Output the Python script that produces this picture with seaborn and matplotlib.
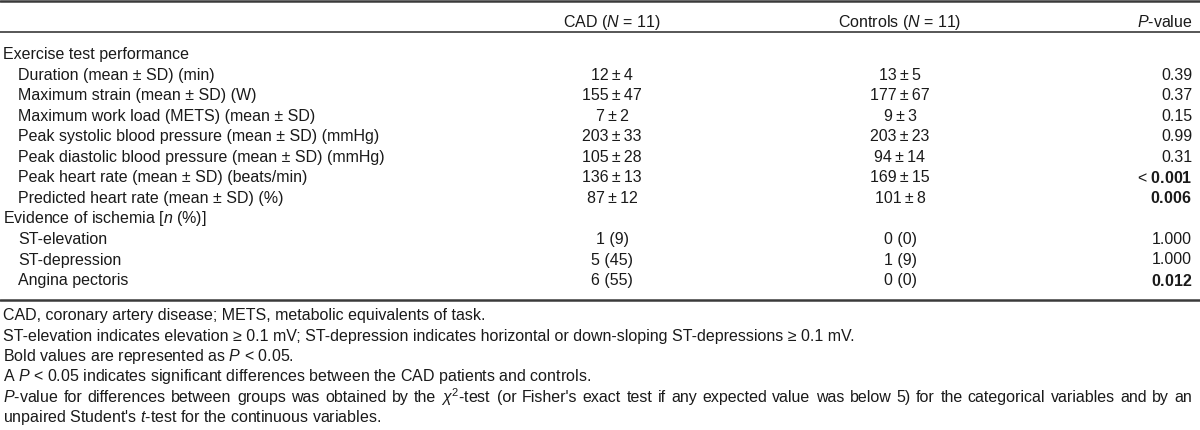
import matplotlib
matplotlib.use("Agg")
import matplotlib.pyplot as plt
import seaborn as sns

# Table content
col_headers = ["CAD ($N$ = 11)", "Controls ($N$ = 11)", "$P$-value"]

sections = ["Exercise test performance", "Evidence of ischemia [$n$ (%)]"]

exercise_labels = [
    "Duration (mean ± SD) (min)",
    "Maximum strain (mean ± SD) (W)",
    "Maximum work load (METS) (mean ± SD)",
    "Peak systolic blood pressure (mean ± SD) (mmHg)",
    "Peak diastolic blood pressure (mean ± SD) (mmHg)",
    "Peak heart rate (mean ± SD) (beats/min)",
    "Predicted heart rate (mean ± SD) (%)",
]
exercise_cad = ["12\u2009±\u20094", "155\u2009±\u200947", "7\u2009±\u20092", "203\u2009±\u200933",
                "105\u2009±\u200928", "136\u2009±\u200913", "87\u2009±\u200912"]
exercise_ctrl = ["13\u2009±\u20095", "177\u2009±\u200967", "9\u2009±\u20093", "203\u2009±\u200923",
                 "94\u2009±\u200914", "169\u2009±\u200915", "101\u2009±\u20098"]
exercise_p = ["0.39", "0.37", "0.15", "0.99", "0.31", "<0.001", "0.006"]
exercise_sig = [False, False, False, False, False, True, True]

ischemia_labels = ["ST-elevation", "ST-depression", "Angina pectoris"]
ischemia_cad = ["1 (9)", "5 (45)", "6 (55)"]
ischemia_ctrl = ["0 (0)", "1 (9)", "0 (0)"]
ischemia_p = ["1.000", "1.000", "0.012"]
ischemia_sig = [False, False, True]

footnotes = [
    "CAD, coronary artery disease; METS, metabolic equivalents of task.",
    "ST-elevation indicates elevation ≥ 0.1 mV; ST-depression indicates horizontal or down-sloping ST-depressions ≥ 0.1 mV.",
    "Bold values are represented as $P$ < 0.05.",
    "A $P$ < 0.05 indicates significant differences between the CAD patients and controls.",
    "$P$-value for differences between groups was obtained by the $\\chi^2$-test (or Fisher's exact test if any expected value was below 5) for the categorical variables and by an",
    "unpaired Student's $t$-test for the continuous variables.",
]
justified = [False, False, False, False, True, False]

# Style
sns.set_theme(style="white")
plt.rcParams["font.family"] = ["Liberation Sans", "DejaVu Sans"]
plt.rcParams["mathtext.fontset"] = "custom"
plt.rcParams["mathtext.rm"] = "Liberation Sans"
plt.rcParams["mathtext.it"] = "Liberation Sans:italic"
plt.rcParams["mathtext.bf"] = "Liberation Sans:bold"

fs = 11.5
txt = "#1a1a1a"
line_col = "#3a3a3a"

fig = plt.figure(figsize=(12, 4.31), dpi=100)
ax = fig.add_axes([0, 0, 1, 1])
ax.set_xlim(0, 1200)
ax.set_ylim(431, 0)
ax.axis("off")

x_label, x_indent = 3, 18
x_cad, x_ctrl, x_p = 612, 900, 1192
y_head, y_body, step = 22, 54.5, 20.55
y_foot, step_foot = 316, 20.3


def fmt_p(p, sig):
    if not sig:
        return p
    if p.startswith("<"):
        return "< $\\mathbf{" + p[1:] + "}$"
    return "$\\mathbf{" + p + "}$"


# rules
ax.plot([0, 1200], [1.5, 1.5], color=line_col, lw=1.8)
ax.plot([0, 1200], [33, 33], color=line_col, lw=1.2)
ax.plot([0, 1200], [301, 301], color=line_col, lw=1.8)

# header
ax.text(x_cad, y_head, col_headers[0], ha="center", va="center", fontsize=fs, color=txt)
ax.text(x_ctrl, y_head, col_headers[1], ha="center", va="center", fontsize=fs, color=txt)
ax.text(x_p, y_head, col_headers[2], ha="right", va="center", fontsize=fs, color=txt)

# body
y = y_body
blocks = [
    (sections[0], exercise_labels, exercise_cad, exercise_ctrl, exercise_p, exercise_sig),
    (sections[1], ischemia_labels, ischemia_cad, ischemia_ctrl, ischemia_p, ischemia_sig),
]
for sec, labels, cad, ctrl, pv, sig in blocks:
    ax.text(x_label, y, sec, ha="left", va="center", fontsize=fs, color=txt)
    y += step
    for lab, c, k, p, s in zip(labels, cad, ctrl, pv, sig):
        ax.text(x_indent, y, lab, ha="left", va="center", fontsize=fs, color=txt)
        ax.text(x_cad, y, c, ha="center", va="center", fontsize=fs, color=txt)
        ax.text(x_ctrl, y, k, ha="center", va="center", fontsize=fs, color=txt)
        ax.text(x_p, y, fmt_p(p, s), ha="right", va="center", fontsize=fs, color=txt)
        y += step

# footnotes (the wrapped line is justified to the right edge)
renderer = fig.canvas.get_renderer()
y = y_foot
for note, just in zip(footnotes, justified):
    if not just:
        ax.text(x_label, y, note, ha="left", va="center", fontsize=fs, color=txt)
    else:
        words = note.split(" ")
        items = [ax.text(0, y, w, ha="left", va="center", fontsize=fs, color=txt) for w in words]
        widths = [t.get_window_extent(renderer).width for t in items]
        gap = (x_p - x_label - sum(widths)) / (len(words) - 1)
        x = x_label
        for t, w in zip(items, widths):
            t.set_x(x)
            x += w + gap
    y += step_foot

fig.savefig("out.png", dpi=100, facecolor="white")
